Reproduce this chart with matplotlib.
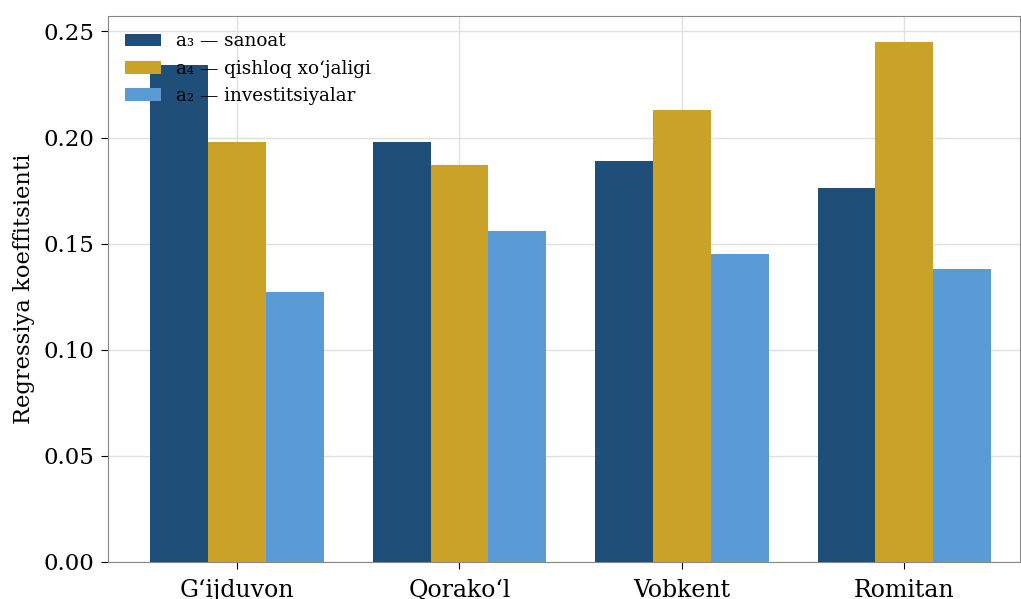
import numpy as np
import matplotlib.pyplot as plt

districts = ["G\u2018ijduvon", "Qorako\u2018l", "Vobkent", "Romitan"]
sanoat = [0.234, 0.198, 0.189, 0.176]
qishloq = [0.198, 0.187, 0.213, 0.245]
invest = [0.127, 0.156, 0.145, 0.138]

labels = ["a\u2083 \u2014 sanoat", "a\u2084 \u2014 qishloq xo\u2018jaligi", "a\u2082 \u2014 investitsiyalar"]
colors = ["#1f4e79", "#c9a227", "#5b9bd5"]

plt.rcParams['font.family'] = ['DejaVu Serif', 'DejaVu Sans']

fig = plt.figure(figsize=(10.21, 5.99), dpi=100)
ax = fig.add_axes([0.1058, 0.0618, 0.8932, 0.9115])

x = np.arange(len(districts))
w = 0.26
for i, (vals, lab, col) in enumerate(zip([sanoat, qishloq, invest], labels, colors)):
    ax.bar(x + (i - 1) * w, vals, w, label=lab, color=col, zorder=3)

ax.set_xlim(-0.58, 3.52)
ax.set_ylim(0, max(qishloq) * 1.05)
ax.set_xticks(x)
ax.set_xticklabels(districts, fontsize=17)
ax.tick_params(axis='x', pad=7, length=5)
ax.tick_params(axis='y', labelsize=16.5, pad=5, length=5)
ax.set_ylabel("Regressiya koeffitsienti", fontsize=16.3, labelpad=6)
ax.grid(True, color='#e0e0e0', linewidth=1, zorder=0)
for s in ax.spines.values():
    s.set_color('#888888')
ax.legend(loc='upper left', frameon=False, fontsize=13.2)

fig.savefig("out.png", dpi=100)
